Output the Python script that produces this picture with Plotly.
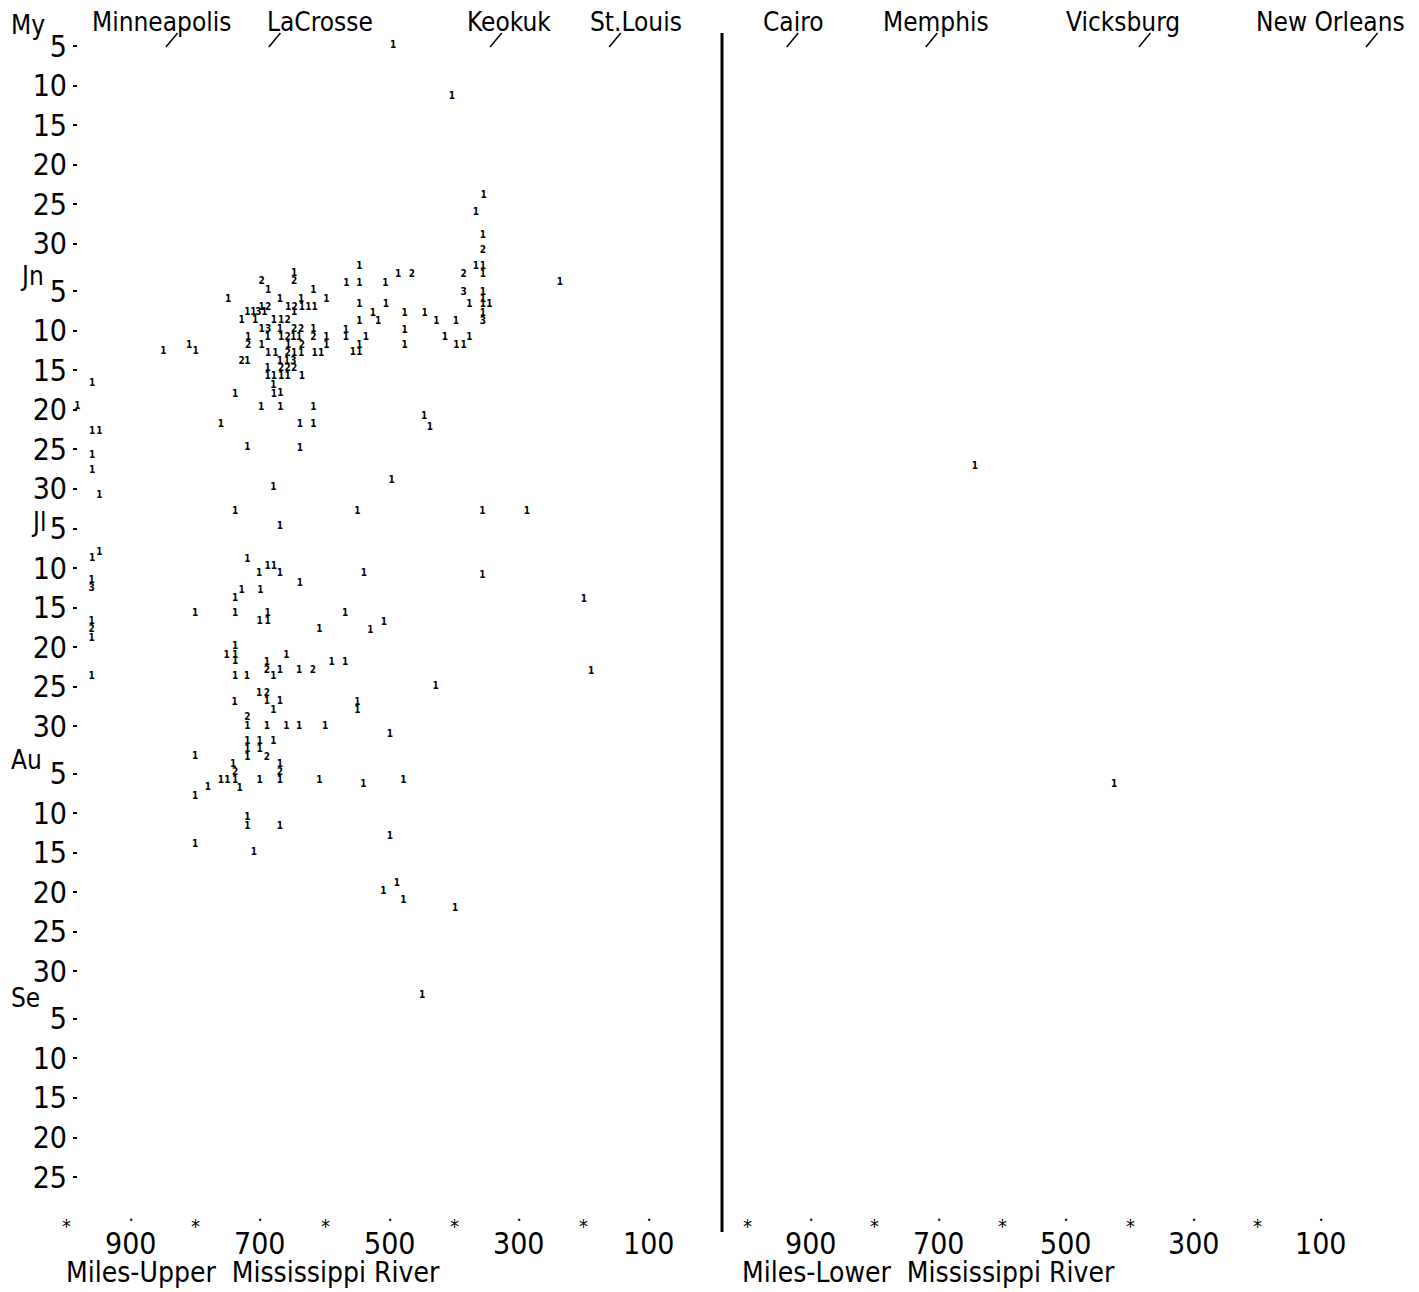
import plotly.graph_objects as go

# ---------------- data ----------------
# day index: May 1 = 1, June 1 = 32, July 1 = 62, Aug 1 = 93, Sep 1 = 124
month_names = ["My", "Jn", "Jl", "Au", "Se"]
month_offsets = [0, 31, 61, 92, 123]
month_tick_days = [[5, 10, 15, 20, 25, 30], [5, 10, 15, 20, 25, 30], [5, 10, 15, 20, 25, 30],
                   [5, 10, 15, 20, 25, 30], [5, 10, 15, 20, 25]]

upper_cities = ["Minneapolis", "LaCrosse", "Keokuk", "St.Louis"]
upper_city_miles = [846, 687, 345, 161]
lower_cities = ["Cairo", "Memphis", "Vicksburg", "New Orleans"]
lower_city_miles = [938, 720, 386, 30]

mile_tick_vals = [900, 700, 500, 300, 100]
mile_tick_text = ["900", "700", "500", "300", "100"]
mile_star_vals = [1000, 800, 600, 400, 200]

upper_miles = [
    495, 404, 355, 367, 356, 356, 367, 356, 547, 648,
    487, 466, 386, 356, 698, 648, 567, 547, 507, 237,
    688, 618, 386, 356, 750, 670, 637, 598, 356, 698,
    688, 657, 647, 636, 626, 616, 547, 506, 377, 356,
    346, 720, 711, 703, 694, 648, 526, 477, 446, 356,
    729, 708, 679, 668, 658, 547, 518, 428, 398, 356,
    698, 688, 670, 648, 637, 618, 568, 477, 719, 689,
    668, 658, 649, 640, 618, 598, 568, 537, 415, 377,
    719, 698, 657, 636, 598, 547, 477, 397, 386, 810,
    850, 800, 688, 677, 658, 648, 637, 616, 606, 557,
    547, 729, 720, 670, 659, 649, 689, 668, 658, 648,
    689, 679, 668, 658, 636, 960, 680, 739, 679, 669,
    983, 699, 669, 618, 447, 438, 761, 639, 618, 960,
    949, 720, 639, 960, 960, 680, 497, 949, 739, 550,
    357, 288, 670, 960, 949, 720, 702, 689, 679, 670,
    540, 639, 357, 961, 961, 729, 700, 739, 200, 801,
    739, 689, 569, 701, 689, 961, 961, 961, 609, 530,
    509, 739, 752, 739, 739, 660, 961, 690, 690, 680,
    670, 640, 619, 590, 569, 739, 721, 189, 702, 690,
    690, 670, 740, 680, 550, 550, 429, 720, 720, 690,
    660, 640, 600, 500, 720, 701, 680, 720, 701, 720,
    690, 801, 742, 739, 739, 761, 751, 670, 670, 670,
    701, 609, 541, 479, 781, 732, 801, 720, 720, 670,
    500, 801, 710, 510, 489, 479, 399, 450,
]
upper_days = [
    4.9, 11.4, 23.9, 26.0, 29.0, 30.9, 32.9, 32.9, 32.9, 33.7,
    33.85, 33.85, 33.85, 33.85, 34.8, 34.8, 35.0, 35.0, 35.0, 34.9,
    35.9, 35.9, 36.1, 36.1, 37.1, 37.1, 37.1, 37.1, 37.0, 38.0,
    38.0, 38.0, 38.0, 38.0, 38.0, 38.0, 37.7, 37.7, 37.7, 37.7,
    37.7, 38.7, 38.7, 38.7, 38.7, 38.7, 38.8, 38.8, 38.8, 38.8,
    39.7, 39.7, 39.7, 39.7, 39.7, 39.85, 39.85, 39.85, 39.85, 39.85,
    40.8, 40.8, 40.8, 40.8, 40.8, 40.8, 40.9, 40.9, 41.8, 41.8,
    41.8, 41.8, 41.8, 41.8, 41.8, 41.8, 41.9, 41.9, 41.9, 41.9,
    42.8, 42.8, 42.8, 42.8, 42.8, 42.9, 42.9, 42.9, 42.9, 42.8,
    43.6, 43.6, 43.9, 43.9, 43.9, 43.9, 43.9, 43.9, 43.9, 43.8,
    43.8, 44.85, 44.85, 44.85, 44.85, 44.85, 45.8, 45.8, 45.8, 45.8,
    46.75, 46.75, 46.75, 46.75, 46.75, 47.7, 47.9, 49.0, 49.0, 48.9,
    50.6, 50.7, 50.7, 50.7, 51.8, 53.2, 52.8, 52.8, 52.8, 53.75,
    53.75, 55.7, 55.85, 56.8, 58.7, 60.8, 59.9, 61.8, 63.9, 63.9,
    63.9, 63.9, 65.8, 69.8, 69.05, 69.9, 71.7, 70.8, 70.8, 71.7,
    71.7, 73.0, 72.0, 72.6, 73.6, 73.85, 73.85, 74.9, 75.0, 76.8,
    76.8, 76.8, 76.8, 77.8, 77.8, 77.8, 78.8, 79.9, 78.8, 78.9,
    77.9, 80.9, 82.0, 82.0, 82.8, 82.0, 84.7, 83.0, 84.0, 84.7,
    83.9, 84.0, 84.0, 83.0, 83.0, 84.7, 84.7, 84.1, 86.9, 86.9,
    87.9, 87.9, 88.0, 89.0, 88.0, 89.0, 86.0, 89.9, 91.0, 91.0,
    91.0, 91.0, 91.0, 92.0, 92.9, 92.9, 92.9, 93.9, 93.9, 94.9,
    94.9, 94.8, 95.8, 96.8, 97.8, 97.8, 97.8, 95.8, 96.8, 97.8,
    97.8, 97.8, 98.4, 97.8, 98.8, 98.9, 99.9, 102.6, 103.7, 103.7,
    105.0, 105.9, 107.0, 111.9, 110.85, 113.05, 114.1, 125.0,
]
upper_counts = [
    1, 1, 1, 1, 1, 2, 1, 1, 1, 1,
    1, 2, 2, 1, 2, 2, 1, 1, 1, 1,
    1, 1, 3, 1, 1, 1, 1, 1, 1, 1,
    2, 1, 2, 1, 1, 1, 1, 1, 1, 1,
    1, 1, 1, 3, 1, 1, 1, 1, 1, 1,
    1, 1, 1, 1, 2, 1, 1, 1, 1, 3,
    1, 3, 1, 2, 2, 1, 1, 1, 1, 1,
    1, 2, 1, 1, 2, 1, 1, 1, 1, 1,
    2, 1, 1, 2, 1, 1, 1, 1, 1, 1,
    1, 1, 1, 1, 2, 1, 1, 1, 1, 1,
    1, 2, 1, 1, 1, 3, 1, 2, 2, 2,
    1, 1, 1, 1, 1, 1, 1, 1, 1, 1,
    1, 1, 1, 1, 1, 1, 1, 1, 1, 1,
    1, 1, 1, 1, 1, 1, 1, 1, 1, 1,
    1, 1, 1, 1, 1, 1, 1, 1, 1, 1,
    1, 1, 1, 1, 3, 1, 1, 1, 1, 1,
    1, 1, 1, 1, 1, 1, 2, 1, 1, 1,
    1, 1, 1, 1, 1, 1, 1, 1, 2, 1,
    1, 1, 2, 1, 1, 1, 1, 1, 1, 2,
    1, 1, 1, 1, 1, 1, 1, 2, 1, 1,
    1, 1, 1, 1, 1, 1, 1, 1, 1, 1,
    2, 1, 1, 2, 1, 1, 1, 1, 2, 1,
    1, 1, 1, 1, 1, 1, 1, 1, 1, 1,
    1, 1, 1, 1, 1, 1, 1, 1,
]
lower_miles = [643, 425]
lower_days = [58.1, 98.4]
lower_counts = [1, 1]

# ---------------- figure ----------------
# the page body has an 8px default margin, so the figure is drawn 8px in
PAD = 8
W, H = 1419 - PAD, 1292 - PAD
FONT = "DejaVu Sans Condensed, DejaVu Sans, sans-serif"
FS_NUM = 30
FS_TXT = 26
FS_BOTTOM = 28


def fx(p):
    return (p - PAD) / W


def fy(p):
    return 1 - (p - PAD) / H


digit_font = dict(family=FONT, size=10, color="black", weight="bold")

fig = go.Figure()
fig.add_trace(go.Scatter(
    x=upper_miles, y=upper_days, text=[str(c) for c in upper_counts],
    mode="text", textposition="middle center", textfont=digit_font,
    xaxis="x", yaxis="y", cliponaxis=False, hoverinfo="skip"))
fig.add_trace(go.Scatter(
    x=lower_miles, y=lower_days, text=[str(c) for c in lower_counts],
    mode="text", textposition="middle center", textfont=digit_font,
    xaxis="x2", yaxis="y", cliponaxis=False, hoverinfo="skip"))

ytick_vals, ytick_text = [], []
for off, days in zip(month_offsets, month_tick_days):
    for d in days:
        ytick_vals.append(off + d)
        ytick_text.append(str(d))

annotations = []
shapes = []
txt_font = dict(family=FONT, size=FS_TXT, color="black")
num_font = dict(family=FONT, size=FS_NUM, color="black")

# month labels
month_label_days = [2.3, 34.1, 65.2, 95.3, 125.4]
month_label_x = [9, 18, 29, 9, 9]
for name, d, xp in zip(month_names, month_label_days, month_label_x):
    annotations.append(dict(text=name, x=fx(xp), xref="paper", y=d, yref="y",
                            xanchor="left", yanchor="middle", showarrow=False,
                            font=txt_font))

# city labels + slashes
upper_label_x = [161, 320, 509, 636]
lower_label_x = [793, 936, 1123, 1330]
for name, xp in zip(upper_cities + lower_cities, upper_label_x + lower_label_x):
    annotations.append(dict(text=name, x=fx(xp), xref="paper", y=fy(22), yref="paper",
                            xanchor="center", yanchor="middle", showarrow=False,
                            font=txt_font))
for m in upper_city_miles:
    shapes.append(dict(type="line", xref="x", yref="paper", x0=m, x1=m - 18,
                       y0=fy(47), y1=fy(33), line=dict(color="black", width=1.5)))
for m in lower_city_miles:
    shapes.append(dict(type="line", xref="x2", yref="paper", x0=m, x1=m - 18,
                       y0=fy(47), y1=fy(33), line=dict(color="black", width=1.5)))

# bottom mile scales
for xr in ["x", "x2"]:
    for v, t in zip(mile_tick_vals, mile_tick_text):
        annotations.append(dict(text=t, x=v, xref=xr, y=fy(1243), yref="paper",
                                xanchor="center", yanchor="middle", showarrow=False,
                                font=num_font))
        annotations.append(dict(text="•", x=v, xref=xr, y=fy(1220), yref="paper",
                                xanchor="center", yanchor="middle", showarrow=False,
                                font=dict(family=FONT, size=8, color="black")))
    for v in mile_star_vals:
        annotations.append(dict(text="*", x=v, xref=xr, y=fy(1226), yref="paper",
                                xanchor="center", yanchor="middle", showarrow=False,
                                font=dict(family=FONT, size=20, color="black")))

annotations.append(dict(text="Miles-Upper\u00a0\u00a0Mississippi River", x=fx(64), xref="paper",
                        y=fy(1272), yref="paper", xanchor="left", yanchor="middle",
                        showarrow=False, font=dict(family=FONT, size=FS_BOTTOM, color="black")))
annotations.append(dict(text="Miles-Lower\u00a0\u00a0Mississippi River", x=fx(740), xref="paper",
                        y=fy(1272), yref="paper", xanchor="left", yanchor="middle",
                        showarrow=False, font=dict(family=FONT, size=FS_BOTTOM, color="black")))

# separator between upper and lower river
shapes.append(dict(type="line", xref="paper", yref="paper", x0=fx(722), x1=fx(722),
                   y0=fy(33), y1=fy(1232), line=dict(color="black", width=3)))

fig.update_layout(
    width=W, height=H, margin=dict(l=0, r=0, t=0, b=0),
    paper_bgcolor="white", plot_bgcolor="white", showlegend=False,
    xaxis=dict(domain=[fx(60), fx(715)], range=[1009.7, -2.6], visible=False, anchor="y"),
    xaxis2=dict(domain=[fx(735), fx(1415)], range=[1019.1, -46.7], visible=False, anchor="y"),
    yaxis=dict(domain=[fy(1200), fy(10)], range=[150.9, 0.44], tickvals=ytick_vals,
               ticktext=ytick_text, ticks="outside", ticklen=4, tickwidth=2,
               tickcolor="black", showline=False, showgrid=False, zeroline=False,
               anchor="free", position=fx(77),
               tickfont=num_font),
    annotations=annotations, shapes=shapes,
)

fig.write_html("out.html")
